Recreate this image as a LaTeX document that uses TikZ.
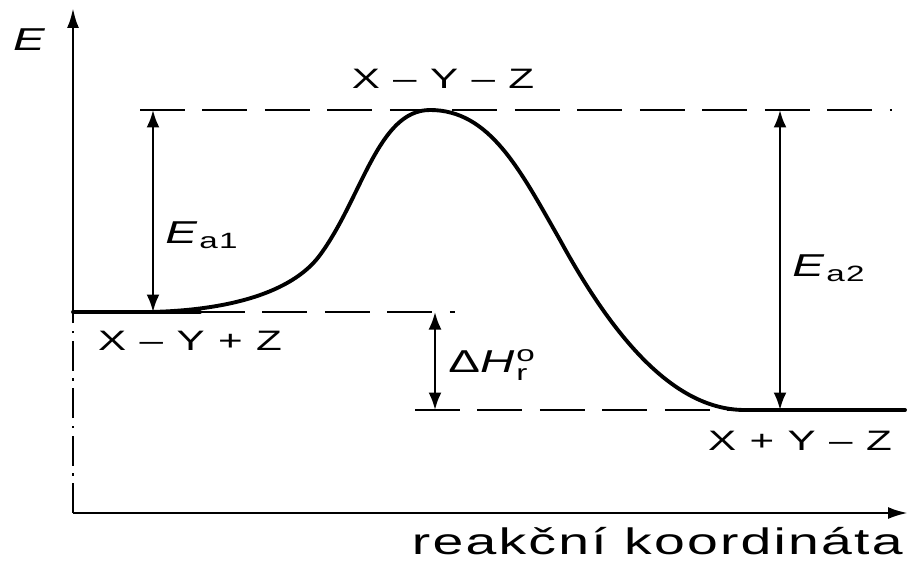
\documentclass[tikz,border=0pt]{standalone}
\usepackage{fontspec}
\setmainfont{Liberation Sans}[FakeStretch=1.5, LetterSpace=6]
\usepackage{tikz}
\usetikzlibrary{arrows.meta,positioning}

\begin{document}
\begin{tikzpicture}[
  x=0.02cm, y=-0.02cm,
  every node/.style={inner sep=0pt},
  axis/.style={line width=1.6pt, -{Latex[length=4mm, width=2.4mm]}},
  level/.style={line width=1.1pt, dash pattern=on 0.9cm off 0.35cm},
  curve/.style={line width=2.2pt, line cap=round},
  gap/.style={line width=1.4pt, {Latex[length=3.5mm, width=2.6mm]}-{Latex[length=3.5mm, width=2.6mm]}},
  state/.style={font=\fontsize{16}{18}\selectfont},
  elabel/.style={font=\fontsize{18}{20}\selectfont}
]
\useasboundingbox (0,0) rectangle (911,561);

% Axes
\coordinate (origin) at (73,513);
\coordinate (ylow) at (73,312);
\coordinate (ytop) at (73,8);
\coordinate (xend) at (908,513);
\draw[line width=1.2pt, dash pattern=on 0.6cm off 0.15cm on 0.05cm off 0.15cm] (origin) -- (ylow);
\draw[axis] (ylow) -- (ytop);
\draw[line width=1.6pt, -{Latex[length=4mm, width=2.4mm]}] (origin) -- (xend);
\node[elabel] (elab) at (30,40) {\textit{E}};
\node[font=\fontsize{21}{23}\selectfont, anchor=base east] (xlab) at (903,554) {reakční koordináta};

% Levels
\coordinate (topL) at (140,110);
\coordinate (topR) at (892,110);
\coordinate (reacA) at (73,312);
\coordinate (reacB) at (200,312);
\coordinate (reacC) at (455,312);
\coordinate (prodA) at (415,410);
\coordinate (prodB) at (745,410);
\coordinate (prodC) at (905,410);
\draw[level] (topL) -- (topR);
\draw[curve] (reacA) -- (reacB);
\draw[level] (reacB) -- (reacC);
\draw[level] (prodA) -- (prodB);
\draw[curve] (prodB) -- (prodC);

% Energy profile
\coordinate (peak) at (430,110);
\draw[curve] (150,312) .. controls (240,310) and (296,288) .. (320,255)
  .. controls (362,198) and (378,110) .. (peak)
  .. controls (490,110) and (520,170) .. (560,240)
  .. controls (620,350) and (680,410) .. (prodB);

% State labels
\node[state] (ts) at (443,79) {X – Y – Z};
\node[state] (reac) at (190,341) {X – Y + Z};
\node[state] (prod) at (800,441) {X + Y – Z};

% Energy gaps
\coordinate (a1top) at (153,110);
\coordinate (a1bot) at (153,312);
\coordinate (a2top) at (780,110);
\coordinate (a2bot) at (780,410);
\coordinate (htop) at (435,312);
\coordinate (hbot) at (435,410);
\draw[gap] (a1top) -- (a1bot);
\draw[gap] (a2top) -- (a2bot);
\draw[gap] (htop) -- (hbot);
\node[elabel, anchor=west] (ea1) at (165,235) {\textit{E}\textsubscript{a1}};
\node[elabel, anchor=west] (ea2) at (792,268) {\textit{E}\textsubscript{a2}};
\node[elabel, anchor=west] (dh) at (448,365) {Δ\textit{H}$^{\mathrm{o}}_{\mathrm{r}}$};

\end{tikzpicture}
\end{document}
